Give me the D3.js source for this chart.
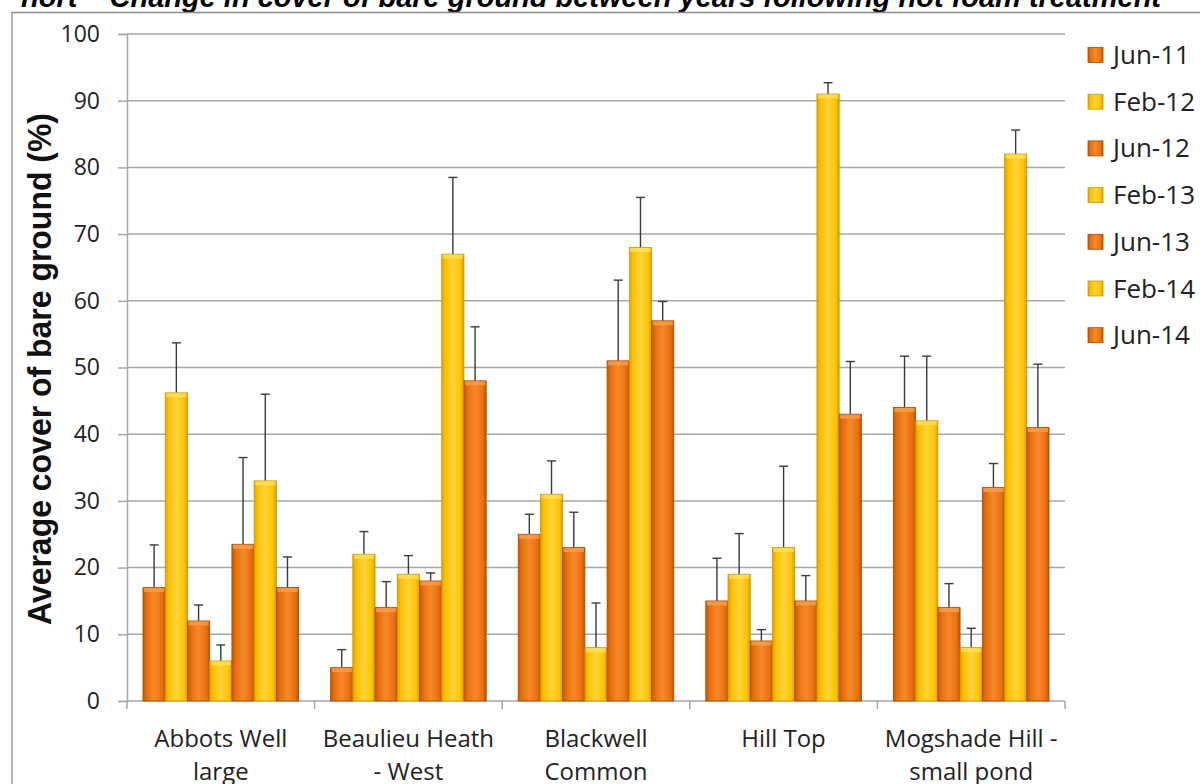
<!DOCTYPE html>
<html><head><meta charset="utf-8">
<script src="https://cdn.jsdelivr.net/npm/d3@7/dist/d3.min.js"></script>
<style>body{margin:0;background:#fff;}svg{display:block;}</style>
</head><body>
<svg id="c" width="1200" height="784"></svg>
<script>
const categories = [["Abbots Well","large"],["Beaulieu Heath","- West"],["Blackwell","Common"],["Hill Top",""],["Mogshade Hill -","small pond"]];
const series = ["Jun-11","Feb-12","Jun-12","Feb-13","Jun-13","Feb-14","Jun-14"];
const seriesColor = ["orange","yellow","orange","yellow","orange","yellow","orange"];
const values = [
  [17, 46.2, 12, 6, 23.5, 33, 17],
  [5, 22, 14, 19, 18, 67, 48],
  [25, 31, 23, 8, 51, 68, 57],
  [15, 19, 9, 23, 15, 91, 43],
  [44, 42, 14, 8, 32, 82, 41]
];
const errors = [
  [6.4, 7.5, 2.4, 2.4, 13, 13, 4.6],
  [2.7, 3.4, 3.9, 2.8, 1.2, 11.5, 8.1],
  [3, 5, 5.3, 6.7, 12.1, 7.5, 2.9],
  [6.4, 6.1, 1.7, 12.2, 3.8, 1.7, 7.9],
  [7.7, 9.7, 3.6, 2.9, 3.6, 3.6, 9.5]
];
const yTicks = [0,10,20,30,40,50,60,70,80,90,100];
const title = "nort – Change in cover of bare ground between years following hot foam treatment";
const yTitle = "Average cover of bare ground (%)";

const svg = d3.select("#c");
const defs = svg.append("defs");
const grads = {
  orange: ["#c45404","#e86d0a","#f5892a","#ea700c","#c05203"],
  yellow: ["#e0a200","#fbbf00","#ffd43a","#fcc303","#d99e00"]
};
Object.entries(grads).forEach(([k,c])=>{
  const g = defs.append("linearGradient").attr("id","g-"+k).attr("x1","0").attr("x2","1").attr("y1","0").attr("y2","0");
  [0,0.15,0.5,0.85,1].forEach((o,i)=>g.append("stop").attr("offset",o).attr("stop-color",c[i]));
});

// frame + title (title is cropped at the top edge as in the reference)
svg.append("text").attr("x",21).attr("y",7).attr("font-family","Liberation Sans, Arial, sans-serif")
  .attr("font-weight","bold").attr("font-style","italic").attr("font-size",29).attr("fill","#000")
  .attr("textLength",1140).attr("lengthAdjust","spacingAndGlyphs").text(title);
svg.append("path").attr("d","M12,784V12.5H1200").attr("fill","none").attr("stroke","#8a8a8a").attr("stroke-width",1.3);

const L=127, R=1065, T=34, B=701;
const x0 = d3.scaleBand().domain(d3.range(categories.length)).range([L,R]).padding(0);
const x1 = d3.scaleBand().domain(d3.range(series.length)).range([16, x0.bandwidth()-16]).padding(0);
const y = d3.scaleLinear().domain([0,100]).range([B,T]);

// gridlines
svg.append("g").selectAll("line").data(yTicks.filter(d=>d>0)).join("line")
  .attr("x1",L).attr("x2",R).attr("y1",d=>y(d)).attr("y2",d=>y(d))
  .attr("stroke","#a6a6a6").attr("stroke-width",1.5);

// y axis
const yAxis = d3.axisLeft(y).tickValues(yTicks).tickSize(9).tickPadding(18);
const ya = svg.append("g").attr("transform",`translate(${L},0)`).call(yAxis);
ya.select(".domain").attr("stroke","#a6a6a6").attr("stroke-width",1.5);
ya.selectAll(".tick line").attr("stroke","#a6a6a6").attr("stroke-width",1.5);
ya.selectAll("text").attr("font-family","Open Sans, sans-serif").attr("font-size",23).attr("fill","#222");

// x axis
const xa = svg.append("g").attr("transform",`translate(0,${B})`);
xa.append("line").attr("x1",L).attr("x2",R).attr("stroke","#a6a6a6").attr("stroke-width",1.5);
xa.selectAll("line.t").data(d3.range(categories.length+1)).join("line").attr("class","t")
  .attr("x1",d=>L+d*x0.bandwidth()).attr("x2",d=>L+d*x0.bandwidth()).attr("y1",0).attr("y2",8)
  .attr("stroke","#a6a6a6").attr("stroke-width",1.5);
categories.forEach((c,i)=>{
  c.forEach((line,j)=>{
    xa.append("text").attr("x",x0(i)+x0.bandwidth()/2).attr("y",46+j*32.5).attr("text-anchor","middle")
      .attr("font-family","Open Sans, sans-serif").attr("font-size",24).attr("fill","#222").text(line);
  });
});

// bars
const groups = svg.append("g").selectAll("g").data(values).join("g").attr("transform",(d,i)=>`translate(${x0(i)},0)`);
groups.each(function(row,ci){
  const g = d3.select(this);
  row.forEach((v,si)=>{
    const bx = x1(si), bw = x1.bandwidth(), top = y(v);
    const col = seriesColor[si];
    const et = y(v+errors[ci][si]);
    g.append("line").attr("x1",bx+bw/2).attr("x2",bx+bw/2).attr("y1",top).attr("y2",et).attr("stroke","#3a3a3a").attr("stroke-width",1.4);
    g.append("line").attr("x1",bx+bw/2-4.5).attr("x2",bx+bw/2+4.5).attr("y1",et).attr("y2",et).attr("stroke","#3a3a3a").attr("stroke-width",1.4);
    g.append("rect").attr("x",bx).attr("y",top).attr("width",bw).attr("height",B-top)
      .attr("fill",`url(#g-${col})`).attr("stroke",col==="orange"?"#a84a04":"#cf9700").attr("stroke-width",0.8);
    g.append("rect").attr("x",bx+1).attr("y",top+0.5).attr("width",bw-2).attr("height",Math.min(4,B-top-1))
      .attr("fill",col==="orange"?"#f7a050":"#ffe25a").attr("opacity",0.8);
  });
});

// legend
const lg = svg.append("g");
series.forEach((s,i)=>{
  const yy = 55 + i*46.7;
  lg.append("rect").attr("x",1088).attr("y",yy-7.5).attr("width",15).attr("height",15)
    .attr("fill",`url(#g-${seriesColor[i]})`).attr("stroke",seriesColor[i]==="orange"?"#a84a04":"#cf9700").attr("stroke-width",0.8);
  lg.append("text").attr("x",1113).attr("y",yy+9).attr("font-family","Open Sans, sans-serif").attr("font-size",26).attr("fill","#222").text(s);
});

// y title
svg.append("text").attr("transform","translate(51,369) rotate(-90)").attr("text-anchor","middle")
  .attr("font-family","Liberation Sans Narrow, Arial Narrow, sans-serif").attr("font-weight","bold").attr("font-size",33)
  .attr("fill","#111").attr("textLength",512).attr("lengthAdjust","spacingAndGlyphs").text(yTitle);
</script>
</body></html>
